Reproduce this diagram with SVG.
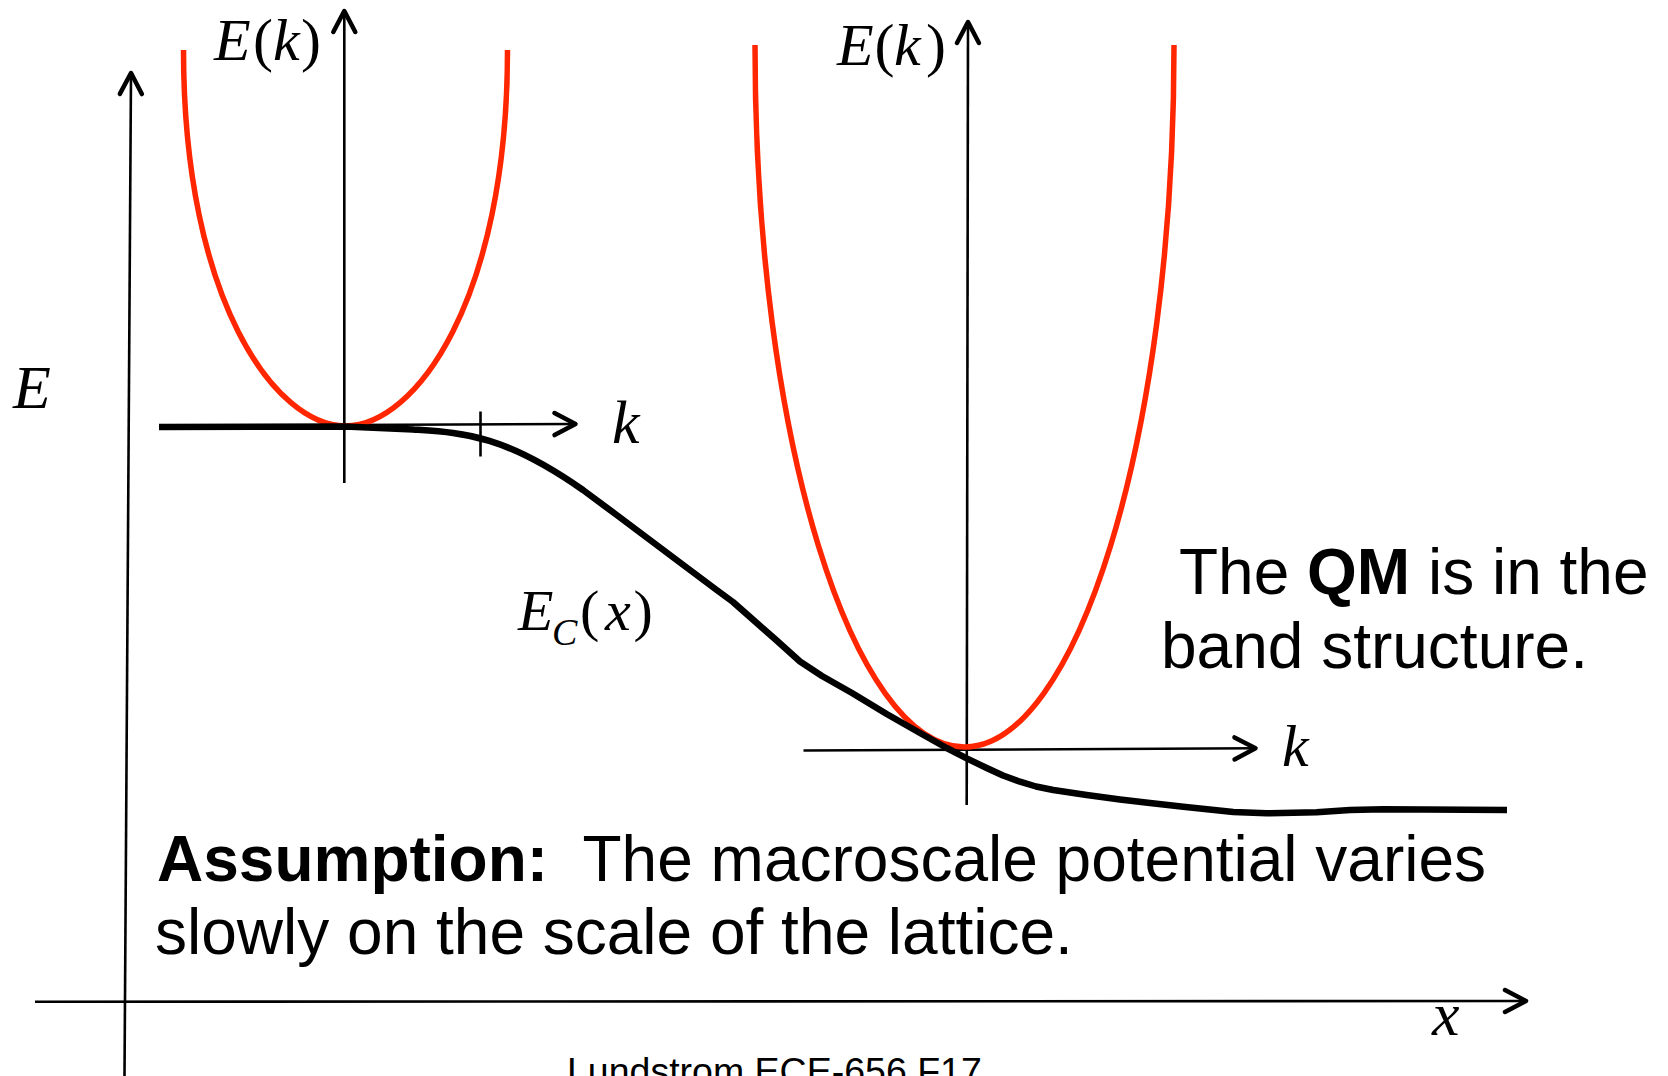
<svg xmlns="http://www.w3.org/2000/svg" width="1668" height="1076" viewBox="0 0 1668 1076">
<style>
.ax{stroke:#000;stroke-width:2.6;fill:none}
.band{stroke:#FF2600;stroke-width:5.5;fill:none}
.ec{stroke:#000;stroke-width:6.5;fill:none;stroke-linejoin:round}
.m{font-family:"Liberation Serif","Times New Roman",serif;font-style:italic;fill:#000}
.u{font-style:normal}
.s{font-family:"Liberation Sans",Arial,sans-serif;fill:#000}
</style>
<defs>
<marker id="arr" markerUnits="userSpaceOnUse" orient="auto" viewBox="-26 -15 30 30" markerWidth="30" markerHeight="30" refX="0" refY="0" overflow="visible">
<path d="M-21,-11 L0,0 L-21,11" fill="none" stroke="#000" stroke-width="4.5" stroke-linecap="round" stroke-linejoin="round"/>
</marker>
</defs>
<rect width="1668" height="1076" fill="#fff"/>
<g id="connectors">
<line class="ax" x1="124.5" y1="1076" x2="131" y2="73" marker-end="url(#arr)"/>
<line class="ax" x1="35" y1="1001.7" x2="1526" y2="1001" marker-end="url(#arr)"/>
<line class="ax" x1="344.3" y1="483" x2="344.3" y2="11" marker-end="url(#arr)"/>
<line class="ax" x1="345" y1="425" x2="575.5" y2="424" marker-end="url(#arr)"/>
<line class="ax" x1="480.5" y1="411.5" x2="480.5" y2="456.5"/>
<line class="ax" x1="966.7" y1="805" x2="968" y2="22" marker-end="url(#arr)"/>
<line class="ax" x1="803.5" y1="750.5" x2="1255.5" y2="748.3" marker-end="url(#arr)"/>
</g>
<g id="band1"><path class="band" d="M183.5,50 C183.5,300 275.5,426 345.5,426 C415.5,426 507.5,300 507.5,50"/></g>
<g id="band2"><path class="band" d="M755,45 C755,445 854.5,747 964.5,747 C1074.5,747 1174,445 1174,45"/></g>
<g id="ec-curve"><path class="ec" d="M159,427 L345,426.5 L413,429.5 C463,433 503,434 583,490 L616.7,515 L650,540 L683.3,565 L716.7,590 L733,602 L750,617 L775,639 L800,661.5 L822,676 L852,693 L886.7,714 L920,733 L946.7,748 L966.7,758.3 L986.7,768 L1003,775.5 L1020,781.7 L1036,786.5 L1053.3,790 L1086.7,795 L1120,799.5 L1150,803 L1183.3,806.7 L1233.3,812 L1266.7,813.3 L1316.7,812.3 L1350,810 L1383.3,809.3 L1507,810"/></g>
<g id="labels">
<text class="m" x="13" y="408" font-size="62">E</text>
<text class="m" font-size="60" y="60"><tspan x="214">E</tspan><tspan class="u" x="253">(</tspan><tspan x="273">k</tspan><tspan class="u" x="301">)</tspan></text>
<text class="m" font-size="60" y="65"><tspan x="837">E</tspan><tspan class="u" x="874.5">(</tspan><tspan x="894">k</tspan><tspan class="u" x="926">)</tspan></text>
<text class="m" x="612" y="443" font-size="62">k</text>
<text class="m" x="1282" y="766" font-size="60">k</text>
<text class="m" x="1432" y="1035" font-size="62">x</text>
<text class="m" font-size="58" y="630"><tspan x="518">E</tspan><tspan x="552" y="645" font-size="38">C</tspan><tspan class="u" x="580" y="630">(</tspan><tspan x="605">x</tspan><tspan class="u" x="633.5">)</tspan></text>
</g>
<g id="qm-note">
<text class="s" font-size="64" x="1179" y="594">The <tspan font-weight="bold">QM</tspan> is in the</text>
<text class="s" font-size="64" x="1161" y="668">band structure.</text>
</g>
<g id="assumption">
<text class="s" font-size="64" x="157" y="881" xml:space="preserve"><tspan font-weight="bold">Assumption:</tspan>  The macroscale potential varies</text>
<text class="s" font-size="64" x="155" y="954">slowly on the scale of the lattice.</text>
</g>
<g id="footer"><text class="s" font-size="37.5" x="567" y="1084">Lundstrom ECE-656 F17</text></g>
</svg>
